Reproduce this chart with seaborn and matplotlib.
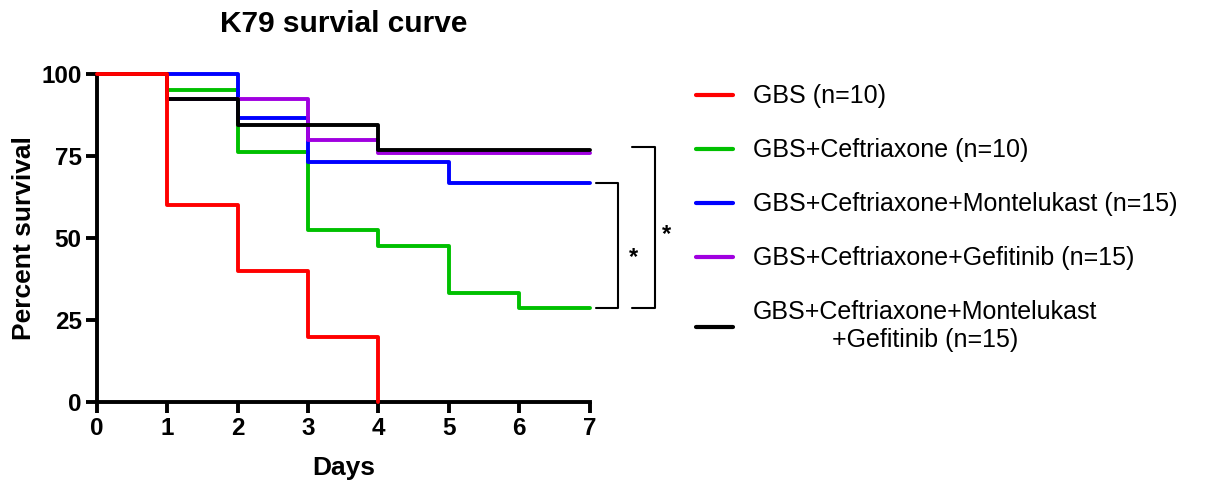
import numpy as np
import pandas as pd
import matplotlib
matplotlib.use("Agg")
import matplotlib.pyplot as plt
import seaborn as sns

# survival (%) at each day, step-post
DAYS = [0, 1, 2, 3, 4, 5, 6, 7]
GBS = [100, 60, 40, 20, 0]
CEF = [100, 95.2, 76.2, 52.4, 47.6, 33.3, 28.6, 28.6]
CEF_MON = [100, 100, 86.7, 73.3, 73.3, 66.7, 66.7, 66.7]
CEF_GEF = [100, 92.3, 92.3, 80.0, 76.0, 76.0, 76.0, 76.0]
CEF_MON_GEF = [100, 92.3, 84.6, 84.6, 76.9, 76.9, 76.9, 76.9]

LABELS = [
    "GBS (n=10)",
    "GBS+Ceftriaxone (n=10)",
    "GBS+Ceftriaxone+Montelukast (n=15)",
    "GBS+Ceftriaxone+Gefitinib (n=15)",
    "GBS+Ceftriaxone+Montelukast\n+Gefitinib (n=15)",
]
COLORS = ["#ff0000", "#00c000", "#0000ff", "#a000e0", "#000000"]
SERIES = [GBS, CEF, CEF_MON, CEF_GEF, CEF_MON_GEF]

rows = []
for lab, vals in zip(LABELS, SERIES):
    for d, v in zip(DAYS, vals):
        rows.append({"Days": d, "survival": v, "group": lab})
df = pd.DataFrame(rows)

sns.set_style("ticks")
plt.rcParams["font.family"] = ["Liberation Sans", "DejaVu Sans"]
plt.rcParams.update({
    "text.color": "black", "axes.labelcolor": "black",
    "xtick.color": "black", "ytick.color": "black",
    "axes.edgecolor": "black",
})

fig = plt.figure(figsize=(12.13, 4.84), dpi=100)
ax = fig.add_axes([0.080, 0.169, 0.406, 0.678])

sns.lineplot(data=df, x="Days", y="survival", hue="group", hue_order=LABELS,
             palette=COLORS, drawstyle="steps-post", estimator=None,
             linewidth=2.8, ax=ax, legend=True)
for ln in ax.lines:
    ln.set_clip_on(False)
# GBS curve sits on top at 100%
ax.lines[0].set_zorder(5)

ax.set_xlim(0, 7)
ax.set_ylim(0, 100)
ax.set_xticks(range(0, 8))
ax.set_yticks([0, 25, 50, 75, 100])
for sp in ["top", "right"]:
    ax.spines[sp].set_visible(False)
for sp in ["left", "bottom"]:
    ax.spines[sp].set_linewidth(2.8)
ax.tick_params(width=2.8, length=8, labelsize=17.5, pad=3)
for t in ax.get_xticklabels() + ax.get_yticklabels():
    t.set_fontweight("bold")

ax.set_xlabel("Days", fontsize=19, fontweight="bold", labelpad=11)
ax.set_ylabel("Percent survival", fontsize=19, fontweight="bold", labelpad=4)
ax.set_title("K79 survial curve", fontsize=21.5, fontweight="bold", pad=30)

# significance brackets
def bracket(x0, x1, y_lo, y_hi, xs, ys):
    ax.plot([x0, x1, x1, x0], [y_hi, y_hi, y_lo, y_lo], color="black",
            lw=1.5, clip_on=False)
    ax.text(xs, ys, "*", fontsize=17, fontweight="bold", ha="center", va="center")

bracket(7.09, 7.40, CEF[-1], CEF_MON[-1], 7.63, 44)
bracket(7.61, 7.93, CEF[-1], CEF_MON_GEF[-1] + 1, 8.10, 51)

handles, labels = ax.get_legend_handles_labels()
ax.get_legend().remove()
leg = fig.legend(handles, labels, loc="upper left", bbox_to_anchor=(0.5555, 0.872),
                 frameon=False, fontsize=18, handlelength=1.45, handletextpad=0.8,
                 labelspacing=1.2)
for t in leg.get_texts():
    t.set_multialignment("center")
for h in leg.get_lines():
    h.set_linewidth(3)

fig.savefig("out.png", dpi=100)
